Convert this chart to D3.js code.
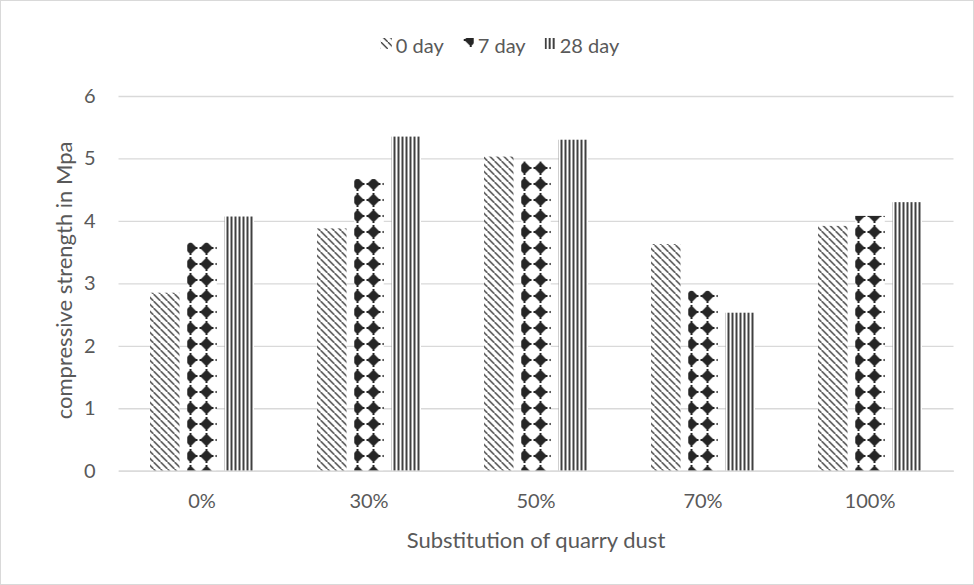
<!DOCTYPE html>
<html>
<head>
<meta charset="utf-8">
<script src="https://cdn.jsdelivr.net/npm/d3@7"></script>
<style>
  html, body { margin: 0; padding: 0; background: #fff; }
  svg text { font-family: Lato, "Open Sans", sans-serif; fill: #595959; }
</style>
</head>
<body>
<svg id="chart" width="974" height="585"></svg>
<script>
// Compressive strength (MPa) by quarry dust substitution and curing age
const categories = ["0%", "30%", "50%", "70%", "100%"];
const seriesNames = ["0 day", "7 day", "28 day"];
const day0  = [2.85, 3.88, 5.03, 3.63, 3.92];
const day7  = [3.65, 4.67, 4.95, 2.88, 4.08];
const day28 = [4.07, 5.35, 5.30, 2.53, 4.30];
const yTicks = [0, 1, 2, 3, 4, 5, 6];
const xTitle = "Substitution of quarry dust";
const yTitle = "compressive strength in Mpa";

const seriesValues = [day0, day7, day28];

const svg = d3.select("#chart");
const W = 974, H = 585;
const plot = { left: 118.5, right: 953.5, top: 96, bottom: 470.7 };

// chart area border
svg.append("rect")
  .attr("x", 0.5).attr("y", 0.5)
  .attr("width", W - 1).attr("height", H - 1)
  .attr("fill", "#fff").attr("stroke", "#d9d9d9");

// fill patterns
const defs = svg.append("defs");
const ink = "#2b2b2b";

// 0 day: dotted downward diagonals
const pDiag = defs.append("pattern")
  .attr("id", "pat0").attr("patternUnits", "userSpaceOnUse")
  .attr("width", 7).attr("height", 7);
pDiag.append("rect").attr("width", 7).attr("height", 7).attr("fill", "#fff");
for (let k = 0; k < 7; k++) {
  pDiag.append("rect").attr("x", k).attr("y", k)
    .attr("width", 1.4).attr("height", 1.4).attr("fill", ink);
}

// 7 day: solid diamonds
const pDia = defs.append("pattern")
  .attr("id", "pat1").attr("patternUnits", "userSpaceOnUse")
  .attr("width", 16).attr("height", 16);
pDia.append("rect").attr("width", 16).attr("height", 16).attr("fill", "#fff");
pDia.append("path").attr("d", "M8,1.5 L14.5,8 L8,14.5 L1.5,8 Z").attr("fill", "#262626");
pDia.append("rect").attr("x", 1).attr("y", 7).attr("width", 14).attr("height", 2).attr("fill", "#262626");
pDia.append("rect").attr("x", 7).attr("y", 1).attr("width", 2).attr("height", 14).attr("fill", "#262626");

// 28 day: dark vertical stripes
const pVert = defs.append("pattern")
  .attr("id", "pat2").attr("patternUnits", "userSpaceOnUse")
  .attr("width", 4).attr("height", 4);
pVert.append("rect").attr("width", 4).attr("height", 4).attr("fill", "#fff");
pVert.append("rect").attr("x", 0).attr("width", 2).attr("height", 4).attr("fill", "#404040");

const fills = ["url(#pat0)", "url(#pat1)", "url(#pat2)"];

// scales
const x0 = d3.scaleBand().domain(categories).range([plot.left, plot.right]);
const x1 = d3.scaleBand().domain(seriesNames)
  .range([x0.bandwidth() / 2 - 52, x0.bandwidth() / 2 + 52])
  .paddingInner(0.208);
const y = d3.scaleLinear().domain([0, 6]).range([plot.bottom, plot.top]);

// gridlines
const grid = svg.append("g").attr("transform", `translate(${plot.left},0)`)
  .call(d3.axisLeft(y).tickValues(yTicks).tickSize(-(plot.right - plot.left)).tickFormat(""));
grid.select(".domain").remove();
grid.selectAll(".tick line").attr("stroke", "#d9d9d9").attr("stroke-width", 1.3);

// y tick labels
const yAxis = svg.append("g").attr("transform", `translate(${plot.left - 23},0)`)
  .call(d3.axisLeft(y).tickValues(yTicks).tickSize(0).tickPadding(0).tickFormat(d3.format("d")));
yAxis.select(".domain").remove();
yAxis.selectAll("text").attr("font-size", 20).attr("fill", "#595959")
  .style("font-family", "Lato, sans-serif");

// bars
const groups = svg.append("g").selectAll("g")
  .data(categories)
  .join("g")
  .attr("transform", d => `translate(${x0(d)},0)`);

groups.selectAll("rect")
  .data((c, ci) => seriesNames.map((s, si) => ({ s, si, v: seriesValues[si][ci] })))
  .join("rect")
  .attr("x", d => x1(d.s))
  .attr("y", d => y(d.v))
  .attr("width", x1.bandwidth())
  .attr("height", d => y(0) - y(d.v))
  .attr("fill", d => fills[d.si]);

// x axis line and labels
const xAxis = svg.append("g").attr("transform", `translate(0,${plot.bottom})`)
  .call(d3.axisBottom(x0).tickSize(0).tickPadding(23));
xAxis.select(".domain").attr("stroke", "#d9d9d9").attr("stroke-width", 1.3);
xAxis.selectAll("text").attr("font-size", 20).attr("fill", "#595959")
  .style("font-family", "Lato, sans-serif");

// axis titles
svg.append("text")
  .attr("x", (plot.left + plot.right) / 2).attr("y", 548)
  .attr("text-anchor", "middle").attr("font-size", 22)
  .text(xTitle);

svg.append("text")
  .attr("transform", `translate(72,${(plot.top + plot.bottom) / 2 - 3}) rotate(-90)`)
  .attr("text-anchor", "middle").attr("font-size", 22)
  .text(yTitle);

// legend
const legend = svg.append("g");
const items = legend.selectAll("g").data(seriesNames).join("g");
items.append("rect").attr("width", 11).attr("height", 11).attr("y", 38)
  .attr("fill", (d, i) => fills[i]);
items.append("text").attr("x", 15).attr("y", 53).attr("font-size", 20).text(d => d);
let cx = 0;
const pos = [];
items.each(function () {
  const w = 15 + this.querySelector("text").getComputedTextLength();
  pos.push(cx);
  cx += w + 19;
});
const total = cx - 19;
const start = 500 - total / 2;
items.attr("transform", (d, i) => `translate(${start + pos[i]},0)`);
</script>
</body>
</html>
